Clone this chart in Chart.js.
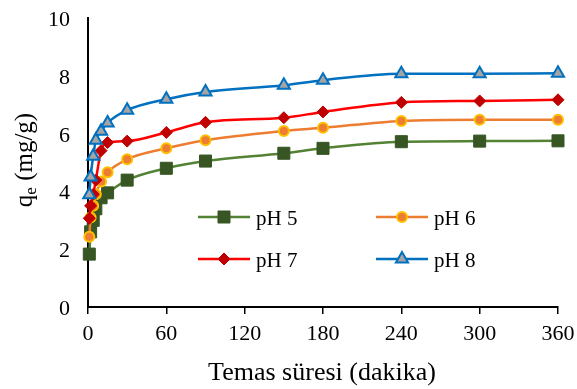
<!DOCTYPE html>
<html>
<head>
<meta charset="utf-8">
<script src="https://cdn.jsdelivr.net/npm/chart.js@4/dist/chart.umd.min.js"></script>
<style>
  body { margin: 0; background: #fff; }
  canvas { display: block; }
</style>
</head>
<body>
<canvas id="kinetics" width="577" height="389"></canvas>
<script>
// contact time (min) and q_e (mg/g) for each pH
const times = [1, 2, 4, 6, 10, 15, 30, 60, 90, 150, 180, 240, 300, 360];
const ph5 = [1.83, 2.6, 3.0, 3.4, 3.78, 3.95, 4.39, 4.8, 5.05, 5.32, 5.49, 5.72, 5.74, 5.75];
const ph6 = [2.43, 3.1, 3.5, 3.9, 4.34, 4.66, 5.11, 5.49, 5.77, 6.09, 6.2, 6.44, 6.48, 6.48];
const ph7 = [3.07, 3.5, 3.9, 4.39, 5.41, 5.69, 5.74, 6.04, 6.39, 6.55, 6.75, 7.08, 7.13, 7.17];
const ph8 = [3.88, 4.5, 5.22, 5.77, 6.08, 6.37, 6.81, 7.19, 7.44, 7.67, 7.85, 8.07, 8.07, 8.09];
const seriesNames = ['pH 5', 'pH 6', 'pH 7', 'pH 8'];
const xTicks = [0, 60, 120, 180, 240, 300, 360];
const yTicks = [0, 2, 4, 6, 8, 10];

const FONT = "'Liberation Serif', 'Times New Roman', serif";
Chart.defaults.font.family = FONT;
Chart.defaults.color = '#000';

function pts(ys) {
  return times.map((t, i) => ({ x: t, y: ys[i] }));
}

const styles = [
  { line: '#548235', fill: '#375623', border: '#375623', pointStyle: 'rect', radius: 8.5, bw: 1 },
  { line: '#ED7D31', fill: '#ED7D31', border: '#FFC000', pointStyle: 'circle', radius: 5, bw: 2 },
  { line: '#FF0000', fill: '#C00000', border: '#C00000', pointStyle: 'rectRot', radius: 6, bw: 1 },
  { line: '#0070C0', fill: '#A5A5A5', border: '#0070C0', pointStyle: 'triangle', radius: 7, bw: 2 }
];

const datasets = [ph5, ph6, ph7, ph8].map((ys, i) => ({
  label: seriesNames[i],
  data: pts(ys),
  borderColor: styles[i].line,
  borderWidth: 2.5,
  backgroundColor: styles[i].fill,
  pointStyle: styles[i].pointStyle,
  pointRadius: styles[i].radius,
  pointBackgroundColor: styles[i].fill,
  pointBorderColor: styles[i].border,
  pointBorderWidth: styles[i].bw,
  cubicInterpolationMode: 'monotone',
  clip: false,
  order: 4 - i
}));

// tick labels, legend inside the plot, axis titles
const extras = {
  id: 'extras',
  afterDraw(chart) {
    const ctx = chart.ctx;
    const xs = chart.scales.x, ys = chart.scales.y;
    ctx.save();
    ctx.fillStyle = '#000';
    ctx.font = '22px ' + FONT;
    ctx.textBaseline = 'alphabetic';
    ctx.textAlign = 'center';
    xTicks.forEach(v => ctx.fillText(String(v), xs.getPixelForValue(v), 340));
    ctx.textAlign = 'right';
    yTicks.forEach(v => ctx.fillText(String(v), 70, ys.getPixelForValue(v) + 8));

    const spots = [[198, 217], [376, 217], [198, 259], [376, 259]];
    spots.forEach((p, i) => {
      const s = styles[i];
      ctx.strokeStyle = s.line;
      ctx.lineWidth = 2.5;
      ctx.beginPath();
      ctx.moveTo(p[0], p[1]);
      ctx.lineTo(p[0] + 52, p[1]);
      ctx.stroke();
      ctx.fillStyle = s.fill;
      ctx.strokeStyle = s.border;
      ctx.lineWidth = s.bw;
      Chart.helpers.drawPoint(ctx, { pointStyle: s.pointStyle, radius: s.radius, rotation: 0, borderWidth: s.bw }, p[0] + 26, p[1]);
      ctx.fillStyle = '#000';
      ctx.font = '21px ' + FONT;
      ctx.textAlign = 'left';
      ctx.textBaseline = 'alphabetic';
      ctx.fillText(seriesNames[i], p[0] + 58, p[1] + 8);
    });

    // x title
    ctx.fillStyle = '#000';
    ctx.font = '26px ' + FONT;
    ctx.textAlign = 'center';
    ctx.textBaseline = 'alphabetic';
    ctx.fillText('Temas süresi (dakika)', 322, 380);

    // y title with subscript
    ctx.translate(32, 160);
    ctx.rotate(-Math.PI / 2);
    const main = '25px ' + FONT, sub = '17px ' + FONT;
    ctx.font = main;
    const wq = ctx.measureText('q').width;
    const rest = ' (mg/g)';
    const wr = ctx.measureText(rest).width;
    ctx.font = sub;
    const we = ctx.measureText('e').width;
    let x = -(wq + we + wr) / 2;
    ctx.textAlign = 'left';
    ctx.font = main;
    ctx.fillText('q', x, 0);
    x += wq;
    ctx.font = sub;
    ctx.fillText('e', x, 4);
    x += we;
    ctx.font = main;
    ctx.fillText(rest, x, 0);
    ctx.restore();
  }
};

new Chart(document.getElementById('kinetics'), {
  type: 'line',
  data: { datasets },
  options: {
    responsive: false,
    devicePixelRatio: 1,
    animation: false,
    layout: { padding: { left: 0, right: 19, top: 18, bottom: 0 } },
    plugins: { legend: { display: false }, tooltip: { enabled: false } },
    scales: {
      x: {
        type: 'linear',
        min: 0,
        max: 360,
        afterFit(scale) {
          scale.height = 82;
          scale.paddingLeft = 0;
          scale.paddingRight = 0;
        },
        afterBuildTicks(scale) { scale.ticks = xTicks.map(v => ({ value: v })); },
        grid: { drawOnChartArea: false, drawTicks: true, tickLength: 7, color: '#000', lineWidth: 1.5 },
        border: { display: true, color: '#000', width: 2 },
        ticks: { color: 'rgba(0,0,0,0)', font: { size: 22 }, padding: 9, maxRotation: 0 }
      },
      y: {
        min: 0,
        max: 10,
        afterFit(scale) {
          scale.width = 88;
          scale.paddingTop = 0;
          scale.paddingBottom = 0;
        },
        afterBuildTicks(scale) { scale.ticks = yTicks.map(v => ({ value: v })); },
        grid: { display: false, drawTicks: false },
        border: { display: true, color: '#000', width: 2 },
        ticks: { color: 'rgba(0,0,0,0)', font: { size: 22 }, padding: 18 }
      }
    }
  },
  plugins: [extras]
});
</script>
</body>
</html>
